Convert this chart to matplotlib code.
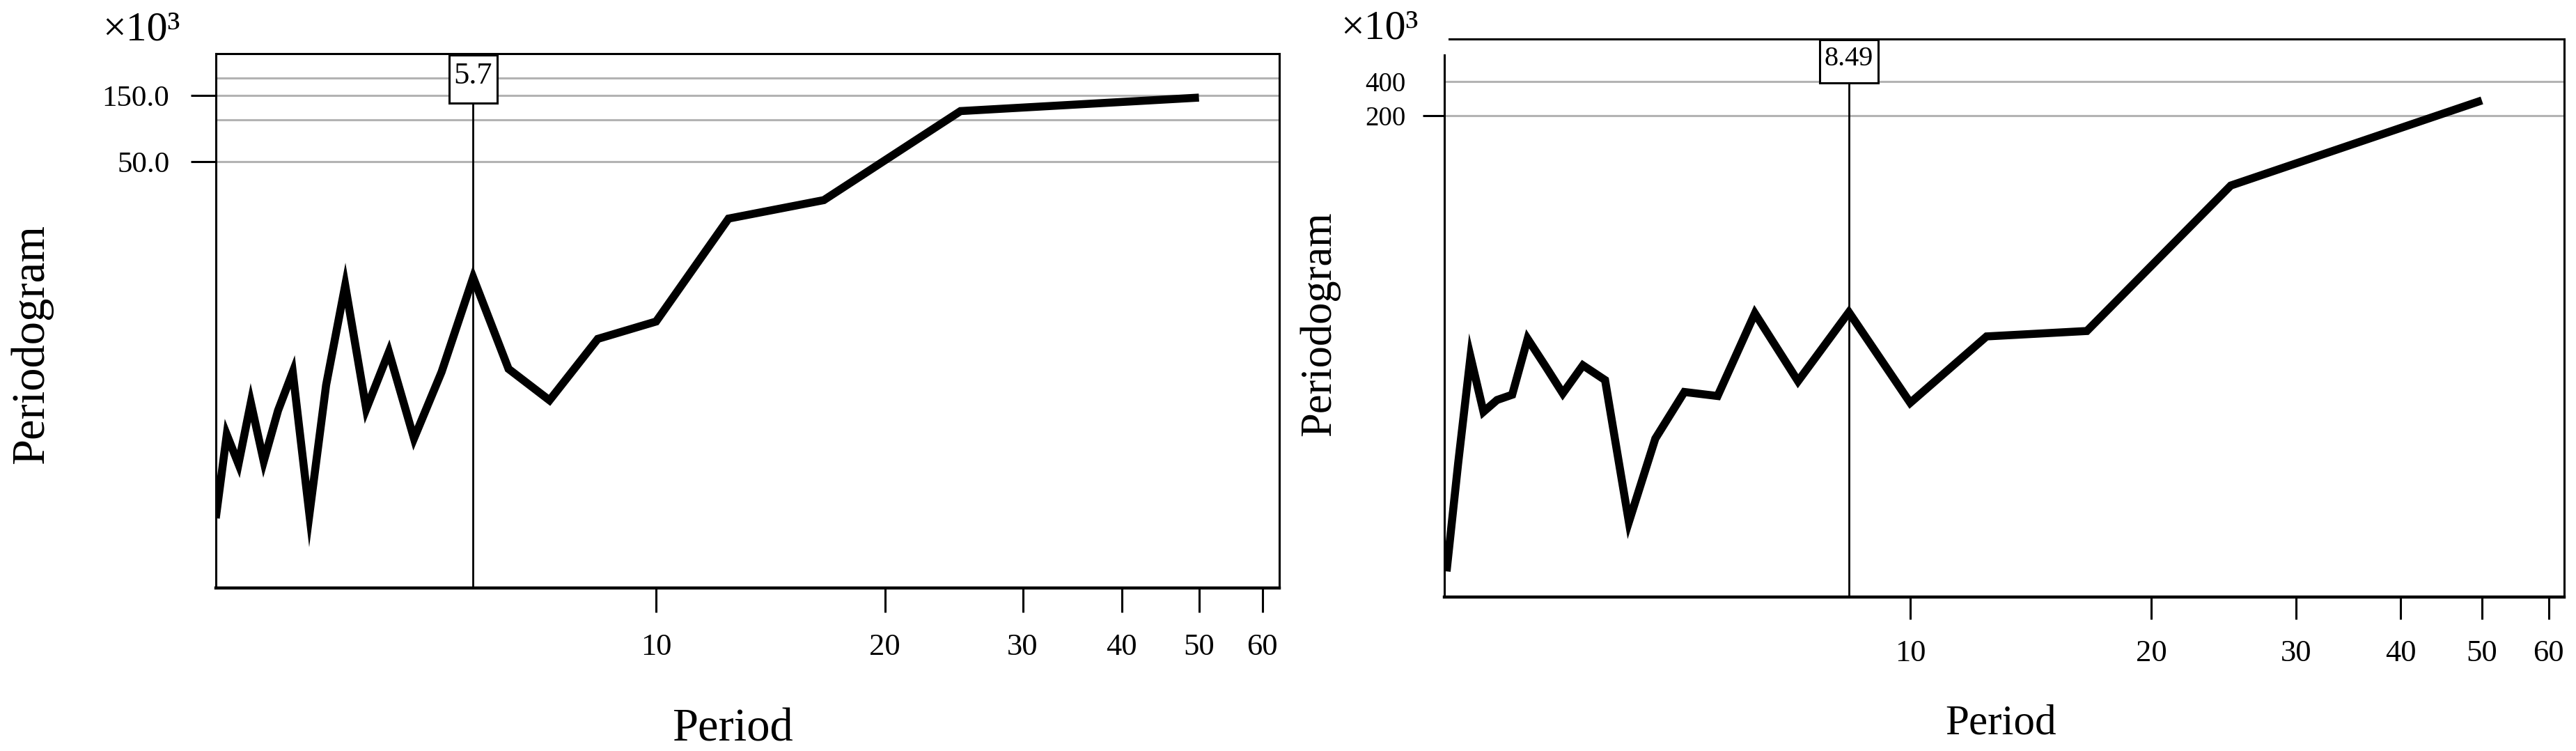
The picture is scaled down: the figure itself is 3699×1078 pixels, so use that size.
import numpy as np
import matplotlib
matplotlib.use("Agg")
import matplotlib.pyplot as plt
from matplotlib.patches import Rectangle
from matplotlib.ticker import NullLocator, NullFormatter

plt.rcParams['font.family'] = ['Liberation Serif', 'DejaVu Serif']

# ---------------- data (values in units of 10^3) ----------------
periods = [50.0, 25.0, 16.67, 12.5, 10.0, 8.33, 7.14, 6.25, 5.56, 5.0, 4.55, 4.17,
           3.85, 3.57, 3.33, 3.13, 2.94, 2.78, 2.63, 2.5, 2.38, 2.27, 2.17]
left_values = [145, 116, 26.6, 19.6, 3.57, 2.68, 0.97, 1.63, 7.4, 1.55, 0.516, 2.16,
               0.84, 6.5, 1.25, 0.147, 1.55, 0.82, 0.354, 0.934, 0.338, 0.55, 0.138]
right_values = [273, 49, 2.6, 2.33, 0.61, 3.8, 0.944, 3.71, 0.70, 0.759, 0.296, 0.055,
                0.966, 1.30, 0.738, 1.29, 2.22, 0.718, 0.646, 0.509, 1.55, 0.18, 0.0203]

x_ticks = [10, 20, 30, 40, 50, 60]
x_tick_labels = ['10', '20', '30', '40', '50', '60']

left_y_ticks = [50, 150]
left_y_tick_labels = ['50.0', '150.0']
left_y_grid = [50, 100, 150, 200]

right_y_ticks = [200, 400]
right_y_tick_labels = ['200', '400']
right_y_grid = [200, 400]

left_peak_period = 5.56
left_peak_label = '5.7'
right_peak_period = 8.33
right_peak_label = '8.49'

# ---------------- layout ----------------
W, H = 3699, 1078
DPI = 100
fig = plt.figure(figsize=(W / DPI, H / DPI), dpi=DPI)
fig.patch.set_facecolor('white')


def px_rect(x0, y0, x1, y1):
    return [x0 / W, 1 - y1 / H, (x1 - x0) / W, (y1 - y0) / H]


fwd = lambda x: np.log10(np.asarray(x, dtype=float) + 1.0)
inv = lambda y: 10.0 ** np.asarray(y, dtype=float) - 1.0

GRID_COLOR = '#b3b3b3'


def make_panel(rect_px, values, xlim, ylim, yticks, ylabels, ygrid,
               peak_p, peak_label, box_px, text_y_px, label_fs,
               ytick_len, ytick_pad, ytick_fs, xtick_len, xtick_pad):
    x0, y0, x1, y1 = rect_px
    aw, ah = x1 - x0, y1 - y0
    ax = fig.add_axes(px_rect(*rect_px))
    ax.set_xscale('function', functions=(fwd, inv))
    ax.set_yscale('log')
    ax.set_xlim(*xlim)
    ax.set_ylim(*ylim)

    for g in ygrid:
        ax.axhline(g, color=GRID_COLOR, lw=2.2, zorder=1)

    ax.plot(periods, values, color='black', lw=8.3, solid_joinstyle='miter',
            solid_capstyle='butt', zorder=3)

    ax.set_xticks(x_ticks)
    ax.set_xticklabels(x_tick_labels)
    ax.xaxis.set_minor_locator(NullLocator())
    ax.xaxis.set_minor_formatter(NullFormatter())
    ax.tick_params(axis='x', direction='out', length=xtick_len, width=2.2,
                   pad=xtick_pad, labelsize=32)

    ax.set_yticks(yticks)
    ax.set_yticklabels(ylabels)
    ax.yaxis.set_minor_locator(NullLocator())
    ax.yaxis.set_minor_formatter(NullFormatter())
    ax.tick_params(axis='y', direction='out', length=ytick_len, width=2.2,
                   pad=ytick_pad, labelsize=ytick_fs)

    for s in ['left', 'top', 'right']:
        ax.spines[s].set_linewidth(2.2)
    ax.spines['bottom'].set_linewidth(3.2)

    # annotation box at the peak period
    bw, bh, btop = box_px
    xa = ax.transAxes.inverted().transform(ax.transData.transform((peak_p, 1.0)))[0]
    top_frac = 1 - (btop - y0) / ah
    bot_frac = top_frac - bh / ah
    ax.add_patch(Rectangle((xa - (bw / aw) / 2, bot_frac), bw / aw, bh / ah,
                           transform=ax.transAxes, facecolor='white',
                           edgecolor='black', lw=2.2, zorder=5, clip_on=False))
    ax.text(xa, 1 - (text_y_px - y0) / ah, peak_label, transform=ax.transAxes,
            ha='center', va='center', fontsize=label_fs, zorder=6)
    ax.axvline(peak_p, ymin=0, ymax=bot_frac, color='black', lw=2.0, zorder=4)
    return ax


axL = make_panel((310, 77, 1837, 844), left_values, (2.171, 63.0), (0.0435, 300),
                 left_y_ticks, left_y_tick_labels, left_y_grid,
                 left_peak_period, left_peak_label, (69, 69, 79), 109, 32,
                 26, 22, 31, 25, 22)

axR = make_panel((2074, 56, 3682, 857), right_values, (2.151, 62.6), (0.0121, 943),
                 right_y_ticks, right_y_tick_labels, right_y_grid,
                 right_peak_period, right_peak_label, (84, 62, 57), 85, 29,
                 22, 18, 28, 23, 21)

# no tick mark at 400 on the right panel
for t, v in zip(axR.yaxis.get_major_ticks(), right_y_ticks):
    if v == 400:
        t.tick1line.set_visible(False)

# right panel: shortened left spine, top spine with small gap
axR.spines['left'].set_bounds(0.0121, 685)
axR.spines['top'].set_bounds(2.19, 62.6)

# multiplier texts
fig.text(203 / W, 1 - 43 / H, '×10³', ha='center', va='center', fontsize=43)
fig.text(1981 / W, 1 - 42 / H, '×10³', ha='center', va='center', fontsize=43)

# axis titles
fig.text(45 / W, 1 - 494 / H, 'Periodogram', rotation=90, ha='center', va='center', fontsize=48)
fig.text(1895 / W, 1 - 465 / H, 'Periodogram', rotation=90, ha='center', va='center', fontsize=45)
fig.text(1052 / W, 1 - 1064 / H, 'Period', ha='center', va='baseline', fontsize=48)
fig.text(2873 / W, 1 - 1054 / H, 'Period', ha='center', va='baseline', fontsize=44)

fig.savefig('out.png', dpi=DPI, facecolor='white')
